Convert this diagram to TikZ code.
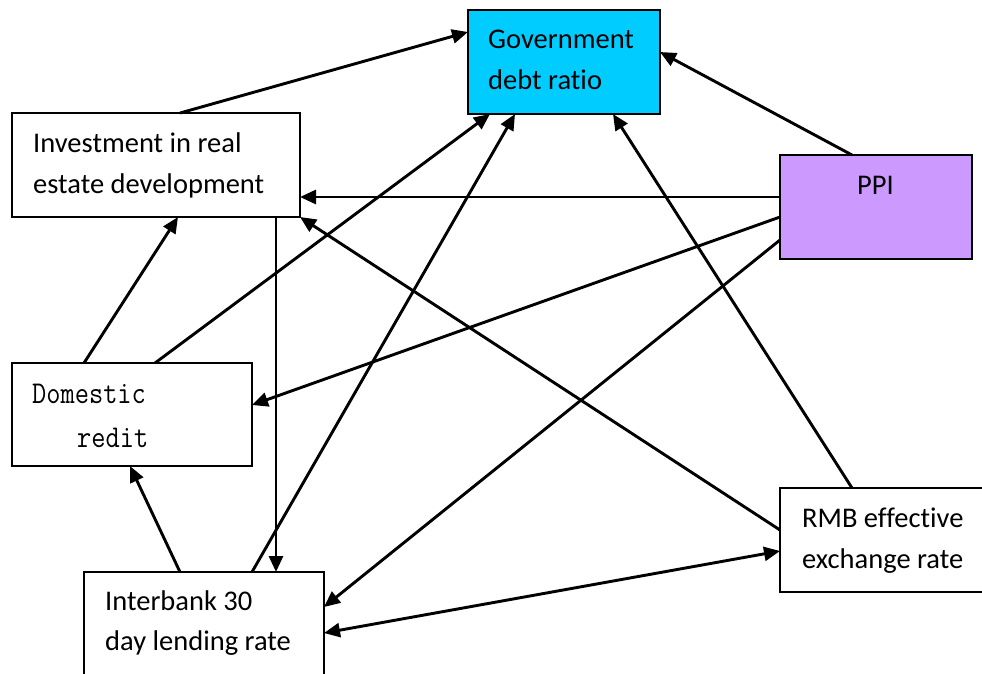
\documentclass[tikz,border=0pt]{standalone}
\usepackage{fontspec}
\setmainfont{Carlito}[Ligatures=NoCommon]
\usetikzlibrary{arrows.meta}
\definecolor{govcol}{HTML}{00CCFF}
\definecolor{ppicol}{HTML}{CC99FF}
\tikzset{
  box/.style={draw, line width=2.4pt, inner sep=0pt, outer sep=0pt, fill=white},
  lbl/.style={anchor=base west, inner sep=0pt, font=\fontsize{28.5}{34}\selectfont},
  monolbl/.style={anchor=base west, inner sep=0pt, font=\fontsize{27.6}{32}\ttfamily},
  conn/.style={line width=2.9pt, -{Triangle[length=16pt,width=14pt]}},
  conn2/.style={line width=2.9pt, {Triangle[length=16pt,width=14pt]}-{Triangle[length=16pt,width=14pt]}}
}
\begin{document}
\begin{tikzpicture}[x=1pt,y=-1pt]
\clip (0,0) rectangle (982,673);
\fill[white] (0,0) rectangle (982,673);
% boxes
\node[box, fill=govcol, minimum width=192pt, minimum height=104pt] (gov) at (564,62) {};
\node[box, minimum width=288pt, minimum height=104pt] (inv) at (156,165) {};
\node[box, fill=ppicol, minimum width=192pt, minimum height=104pt] (ppi) at (876,207) {};
\node[box, minimum width=240pt, minimum height=103pt] (dom) at (132,414.5) {};
\node[box, minimum width=240pt, minimum height=104pt] (ib) at (204,624) {};
\node[box, minimum width=210pt, minimum height=104pt] (rmb) at (885,540) {};
% labels
\node[lbl] (govt1) at (488,48) {Government};
\node[lbl] (govt2) at (488,89) {debt ratio};
\node[lbl] (invt1) at (33,152) {Investment in real};
\node[lbl] (invt2) at (33,193) {estate development};
\node[lbl] (ppit) at (857,194) {PPI};
\node[monolbl] (domt1) at (32,403) {\scalebox{1}[1.15]{Domestic}};
\node[monolbl] (domt2) at (77,447) {\scalebox{1}[1.15]{redit}};
\node[lbl] (ibt1) at (105,610) {Interbank 30};
\node[lbl] (ibt2) at (105,650) {day lending rate};
\node[lbl] (rmbt1) at (802,527) {RMB effective};
\node[lbl] (rmbt2) at (802,568) {exchange rate};
% connectors
\draw[conn] ([xshift=168pt]inv.north west) -- ([yshift=-22pt]gov.north west);
\draw[conn] ([xshift=72pt]ppi.north west) -- ([yshift=-42pt]gov.north east);
\draw[conn] ([yshift=-42pt]ppi.north west) -- ([yshift=-84pt]inv.north east);
\draw[conn] ([yshift=-62pt]ppi.north west) -- ([yshift=-42pt]dom.north east);
\draw[conn] ([yshift=-85pt]ppi.north west) -- ([yshift=-35pt]ib.north east);
\draw[conn] ([xshift=72pt]dom.north west) -- ([xshift=166pt]inv.south west);
\draw[conn] ([xshift=143pt]dom.north west) -- ([xshift=22pt]gov.south west);
\draw[conn] ([xshift=96pt]ib.north west) -- ([xshift=118pt]dom.south west);
\draw[conn] ([xshift=168pt]ib.north west) -- ([xshift=47pt]gov.south west);
\draw[conn] ([xshift=264pt]inv.south west) -- ([xshift=192pt]ib.north west);
\draw[conn] ([yshift=-42pt]rmb.north west) -- (inv.south east);
\draw[conn] ([xshift=72pt]rmb.north west) -- ([xshift=145pt]gov.south west);
\draw[conn2] ([yshift=-61pt]ib.north east) -- ([yshift=-63pt]rmb.north west);
\end{tikzpicture}
\end{document}
